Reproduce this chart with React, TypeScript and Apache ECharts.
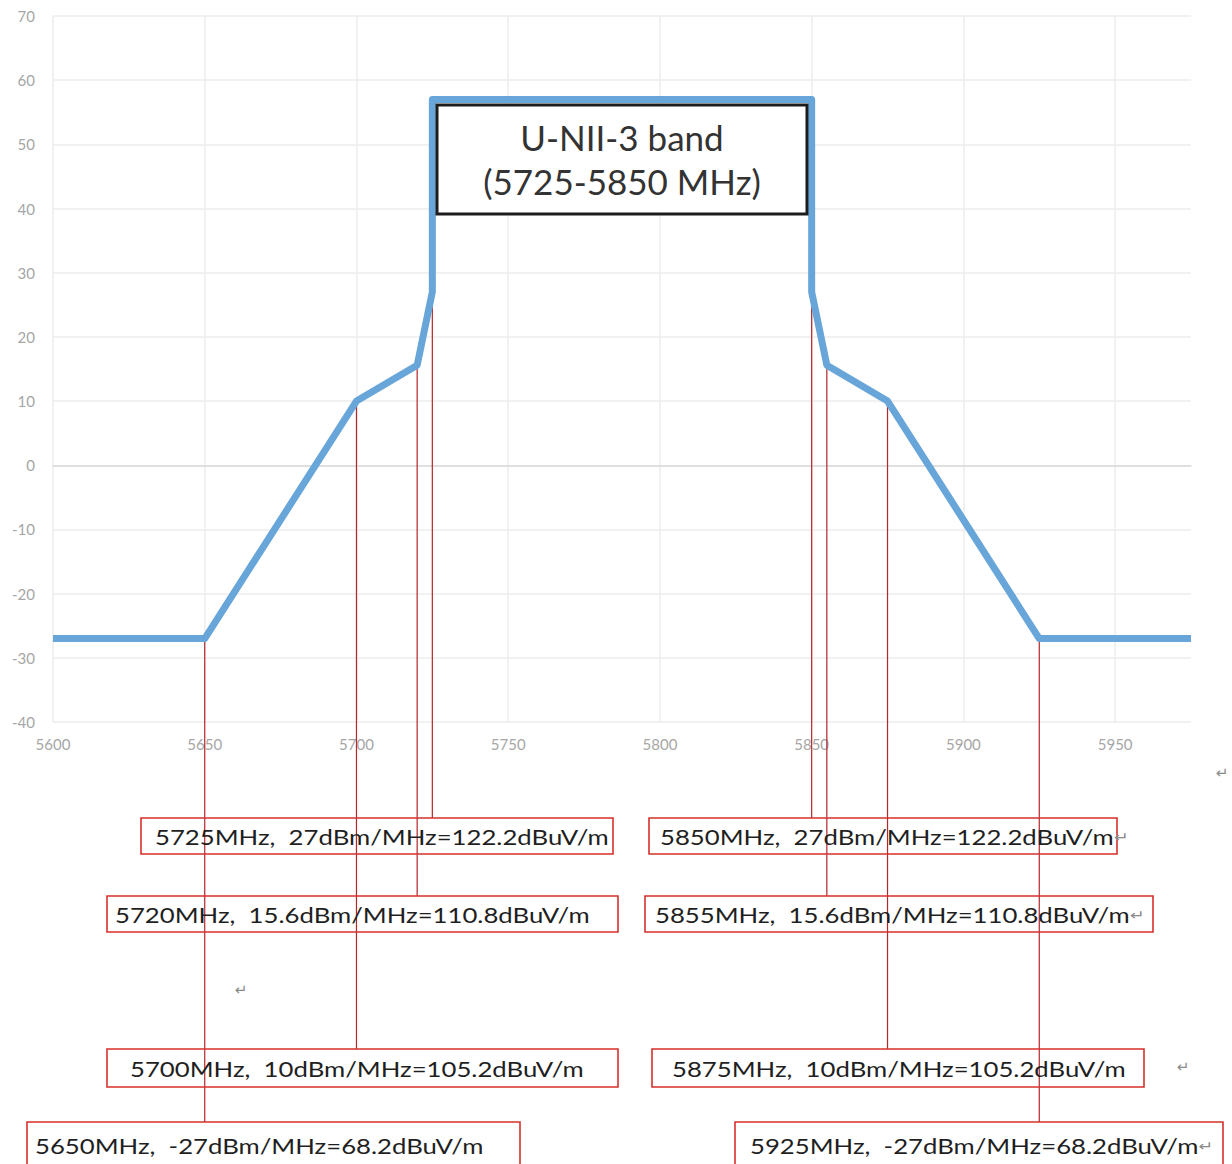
import React, { useEffect, useRef } from "react";
import * as echarts from "echarts";

// ---- data ----
const maskFreq = [5600, 5650, 5700, 5720, 5725, 5725, 5850, 5850, 5855, 5875, 5925, 5975];
const maskLevel = [-27, -27, 10, 15.6, 27, 57, 57, 27, 15.6, 10, -27, -27];

const annFreq = [5725, 5850, 5720, 5855, 5700, 5875, 5650, 5925];
const annDbm = [27, 27, 15.6, 15.6, 10, 10, -27, -27];
const annDbuv = ["122.2", "122.2", "110.8", "110.8", "105.2", "105.2", "68.2", "68.2"];
const annReturnMark = [false, true, false, true, false, false, false, true];

const bandTitle = ["U-NII-3 band", "(5725-5850 MHz)"];

// ---- layout (pixels) ----
const boxLayout = [
  { x: 141, y: 818, w: 472, h: 36, tx: 155 },
  { x: 649, y: 818, w: 468, h: 36, tx: 660 },
  { x: 107, y: 896, w: 511, h: 36, tx: 115 },
  { x: 645, y: 896, w: 508, h: 36, tx: 655 },
  { x: 107, y: 1049, w: 511, h: 38, tx: 130 },
  { x: 652, y: 1049, w: 492, h: 38, tx: 672 },
  { x: 27, y: 1122, w: 493, h: 46, tx: 35 },
  { x: 735, y: 1122, w: 488, h: 46, tx: 750 },
];
const looseMarks = [
  { x: 1222, y: 773 },
  { x: 241, y: 990 },
  { x: 1183, y: 1067 },
];

const FONT = "Lato, 'Open Sans', sans-serif";
const TEXT_SCALE = 1.25;

export default function App() {
  const ref = useRef<HTMLDivElement>(null);
  useEffect(() => {
    document.body.style.margin = "0";
    const chart = echarts.init(ref.current!, undefined, { renderer: "svg" });

    const annGraphics: any[] = [];
    annFreq.forEach((f, i) => {
      const b = boxLayout[i];
      annGraphics.push({
        type: "rect",
        shape: { x: b.x, y: b.y, width: b.w, height: b.h },
        style: { fill: "none", stroke: "#d8302c", lineWidth: 1.6 },
        z: 10,
      });
      const main = `${f}MHz,  ${annDbm[i]}dBm/MHz=${annDbuv[i]}dBuV/m`;
      annGraphics.push({
        type: "text",
        x: b.tx,
        y: b.y + b.h / 2 + 1,
        scaleX: TEXT_SCALE,
        z: 11,
        style: {
          text: annReturnMark[i] ? `{a|${main}}{r|↵}` : `{a|${main}}`,
          rich: {
            a: { fontSize: 20.6, fontFamily: FONT, fill: "#1f1f1f" },
            r: { fontSize: 14, fontFamily: "'DejaVu Sans', sans-serif", fill: "#8a8a8a" },
          },
          align: "left",
          verticalAlign: "middle",
        },
      });
    });
    looseMarks.forEach((m) => {
      annGraphics.push({
        type: "text",
        x: m.x,
        y: m.y,
        z: 11,
        style: {
          text: "↵",
          fontSize: 15,
          fontFamily: "'DejaVu Sans', sans-serif",
          fill: "#8a8a8a",
          align: "center",
          verticalAlign: "middle",
        },
      });
    });

    chart.setOption({
      animation: false,
      backgroundColor: "#ffffff",
      grid: { left: 53, right: 41, top: 16, height: 706, containLabel: false },
      xAxis: {
        type: "value",
        min: 5600,
        max: 5975,
        interval: 50,
        axisLine: { show: true, lineStyle: { color: "#d9d9d9", width: 1.5 } },
        axisTick: { show: false },
        axisLabel: {
          color: "#a6a6a6",
          fontSize: 15,
          fontFamily: FONT,
          margin: 14,
          showMaxLabel: false,
          formatter: (v: number) => (v % 50 === 0 ? String(v) : ""),
        },
        splitLine: { show: true, showMaxLine: false, lineStyle: { color: "#ededed", width: 1.5 } },
      },
      yAxis: {
        type: "value",
        min: -40,
        max: 70,
        interval: 10,
        axisLine: { show: false },
        axisTick: { show: false },
        axisLabel: { color: "#a6a6a6", fontSize: 15, fontFamily: FONT, margin: 18 },
        splitLine: { show: true, lineStyle: { color: "#ededed", width: 1.5 } },
      },
      series: [
        {
          type: "custom",
          coordinateSystem: "cartesian2d",
          clip: false,
          silent: true,
          z: 1,
          data: annFreq.map((f, i) => [f, annDbm[i], i]),
          renderItem: (params: any, api: any) => {
            const idx = api.value(2);
            const p = api.coord([api.value(0), api.value(1)]);
            return {
              type: "line",
              shape: { x1: p[0], y1: p[1], x2: p[0], y2: boxLayout[idx].y },
              style: { stroke: "#b3262a", lineWidth: 1.2 },
            };
          },
        },
        {
          type: "line",
          z: 3,
          data: maskFreq.map((f, i) => [f, maskLevel[i]]),
          showSymbol: false,
          symbol: "none",
          lineStyle: { color: "#68a5d9", width: 7, join: "round", cap: "butt" },
        },
      ],
      graphic: [
        {
          type: "rect",
          shape: { x: 437, y: 105, width: 370, height: 109 },
          style: { fill: "#ffffff", stroke: "#1c1c1c", lineWidth: 3 },
          z: 10,
        },
        {
          type: "text",
          x: 622,
          y: 137,
          z: 11,
          style: {
            text: bandTitle[0],
            fontSize: 35,
            fontFamily: FONT,
            fill: "#333333",
            align: "center",
            verticalAlign: "middle",
          },
        },
        {
          type: "text",
          x: 622,
          y: 181,
          z: 11,
          style: {
            text: bandTitle[1],
            fontSize: 35,
            fontFamily: FONT,
            fill: "#333333",
            align: "center",
            verticalAlign: "middle",
          },
        },
        ...annGraphics,
      ],
    });
    return () => chart.dispose();
  }, []);
  return <div ref={ref} style={{ width: 1232, height: 1164 }} />;
}
